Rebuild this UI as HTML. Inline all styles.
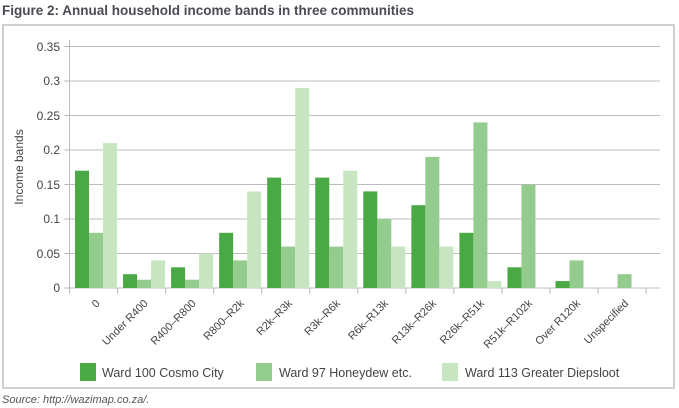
<!DOCTYPE html>
<html><head><style>
body{margin:0;background:#fff;}
svg{display:block;font-family:"Liberation Sans",Arial,sans-serif;}
</style></head><body>
<svg width="679" height="408" xmlns="http://www.w3.org/2000/svg">
<text x="2" y="15" font-size="13.5" font-weight="bold" fill="#4a4a55">Figure 2: Annual household income bands in three communities</text>
<rect x="3" y="25" width="671" height="363" fill="#fff" stroke="#d0d0d0" stroke-width="2"/>
<g stroke="#bcbcbc" stroke-width="1">
<line x1="64" y1="46.5" x2="660" y2="46.5"/>
<line x1="64" y1="81" x2="660" y2="81"/>
<line x1="64" y1="115.5" x2="660" y2="115.5"/>
<line x1="64" y1="150" x2="660" y2="150"/>
<line x1="64" y1="184.5" x2="660" y2="184.5"/>
<line x1="64" y1="219" x2="660" y2="219"/>
<line x1="64" y1="253.5" x2="660" y2="253.5"/>
<line x1="64" y1="288" x2="660" y2="288"/>
<line x1="69.5" y1="40" x2="69.5" y2="288"/>
</g>
<g font-size="12" fill="#444" text-anchor="end">
<text x="60" y="51">0.35</text><text x="60" y="85">0.3</text><text x="60" y="120">0.25</text>
<text x="60" y="154">0.2</text><text x="60" y="189">0.15</text><text x="60" y="223">0.1</text>
<text x="60" y="258">0.05</text><text x="60" y="292">0</text>
</g>
<text transform="translate(23,167) rotate(-90)" font-size="12" fill="#444" text-anchor="middle">Income bands</text>
<g id="bars"></g>
<g id="ticks" stroke="#bcbcbc"></g>
<g id="labels" font-size="11" fill="#444" text-anchor="end"></g>
<rect x="80" y="363" width="16" height="18" fill="#4aa845"/>
<text x="102" y="377" font-size="12.5" fill="#444">Ward 100 Cosmo City</text>
<rect x="256" y="363" width="16" height="18" fill="#93cc8c"/>
<text x="279" y="377" font-size="12.5" fill="#444">Ward 97 Honeydew etc.</text>
<rect x="442" y="363" width="16" height="18" fill="#c8e5c2"/>
<text x="465" y="377" font-size="12.5" fill="#444">Ward 113 Greater Diepsloot</text>
<text x="2" y="403" font-size="11" font-style="italic" fill="#555">Source: http://wazimap.co.za/.</text>
<script>
var d=[.17,.02,.03,.08,.16,.16,.14,.12,.08,.03,.01,0],
m=[.08,.012,.012,.04,.06,.06,.10,.19,.24,.15,.04,.02],
l=[.21,.04,.05,.14,.29,.17,.06,.06,.01,0,0,0],
labs=["0","Under R400","R400–R800","R800–R2k","R2k–R3k","R3k–R6k","R6k–R13k","R13k–R26k","R26k–R51k","R51k–R102k","Over R120k","Unspecified"];
var ns="http://www.w3.org/2000/svg",b=document.getElementById("bars"),t=document.getElementById("ticks"),lb=document.getElementById("labels");
var cw=48.05,x0=69.5,sc=690;
function r(x,v,c){if(v<=0)return;var e=document.createElementNS(ns,"rect");e.setAttribute("x",x);e.setAttribute("width",14);e.setAttribute("y",288-v*sc);e.setAttribute("height",v*sc);e.setAttribute("fill",c);b.appendChild(e);}
for(var i=0;i<12;i++){var gx=x0+i*cw;
r(gx+5.5,d[i],"#4aa845");r(gx+19.5,m[i],"#93cc8c");r(gx+33.5,l[i],"#c8e5c2");
var ln=document.createElementNS(ns,"line");ln.setAttribute("x1",gx+cw);ln.setAttribute("x2",gx+cw);ln.setAttribute("y1",288);ln.setAttribute("y2",294);t.appendChild(ln);
var tx=document.createElementNS(ns,"text");var cx=gx+cw/2+7,cy=304;tx.setAttribute("transform","translate("+cx+","+cy+") rotate(-45)");tx.textContent=labs[i];lb.appendChild(tx);}
var l0=document.createElementNS(ns,"line");l0.setAttribute("x1",x0);l0.setAttribute("x2",x0);l0.setAttribute("y1",288);l0.setAttribute("y2",294);t.appendChild(l0);
</script>
</svg>
</body></html>
